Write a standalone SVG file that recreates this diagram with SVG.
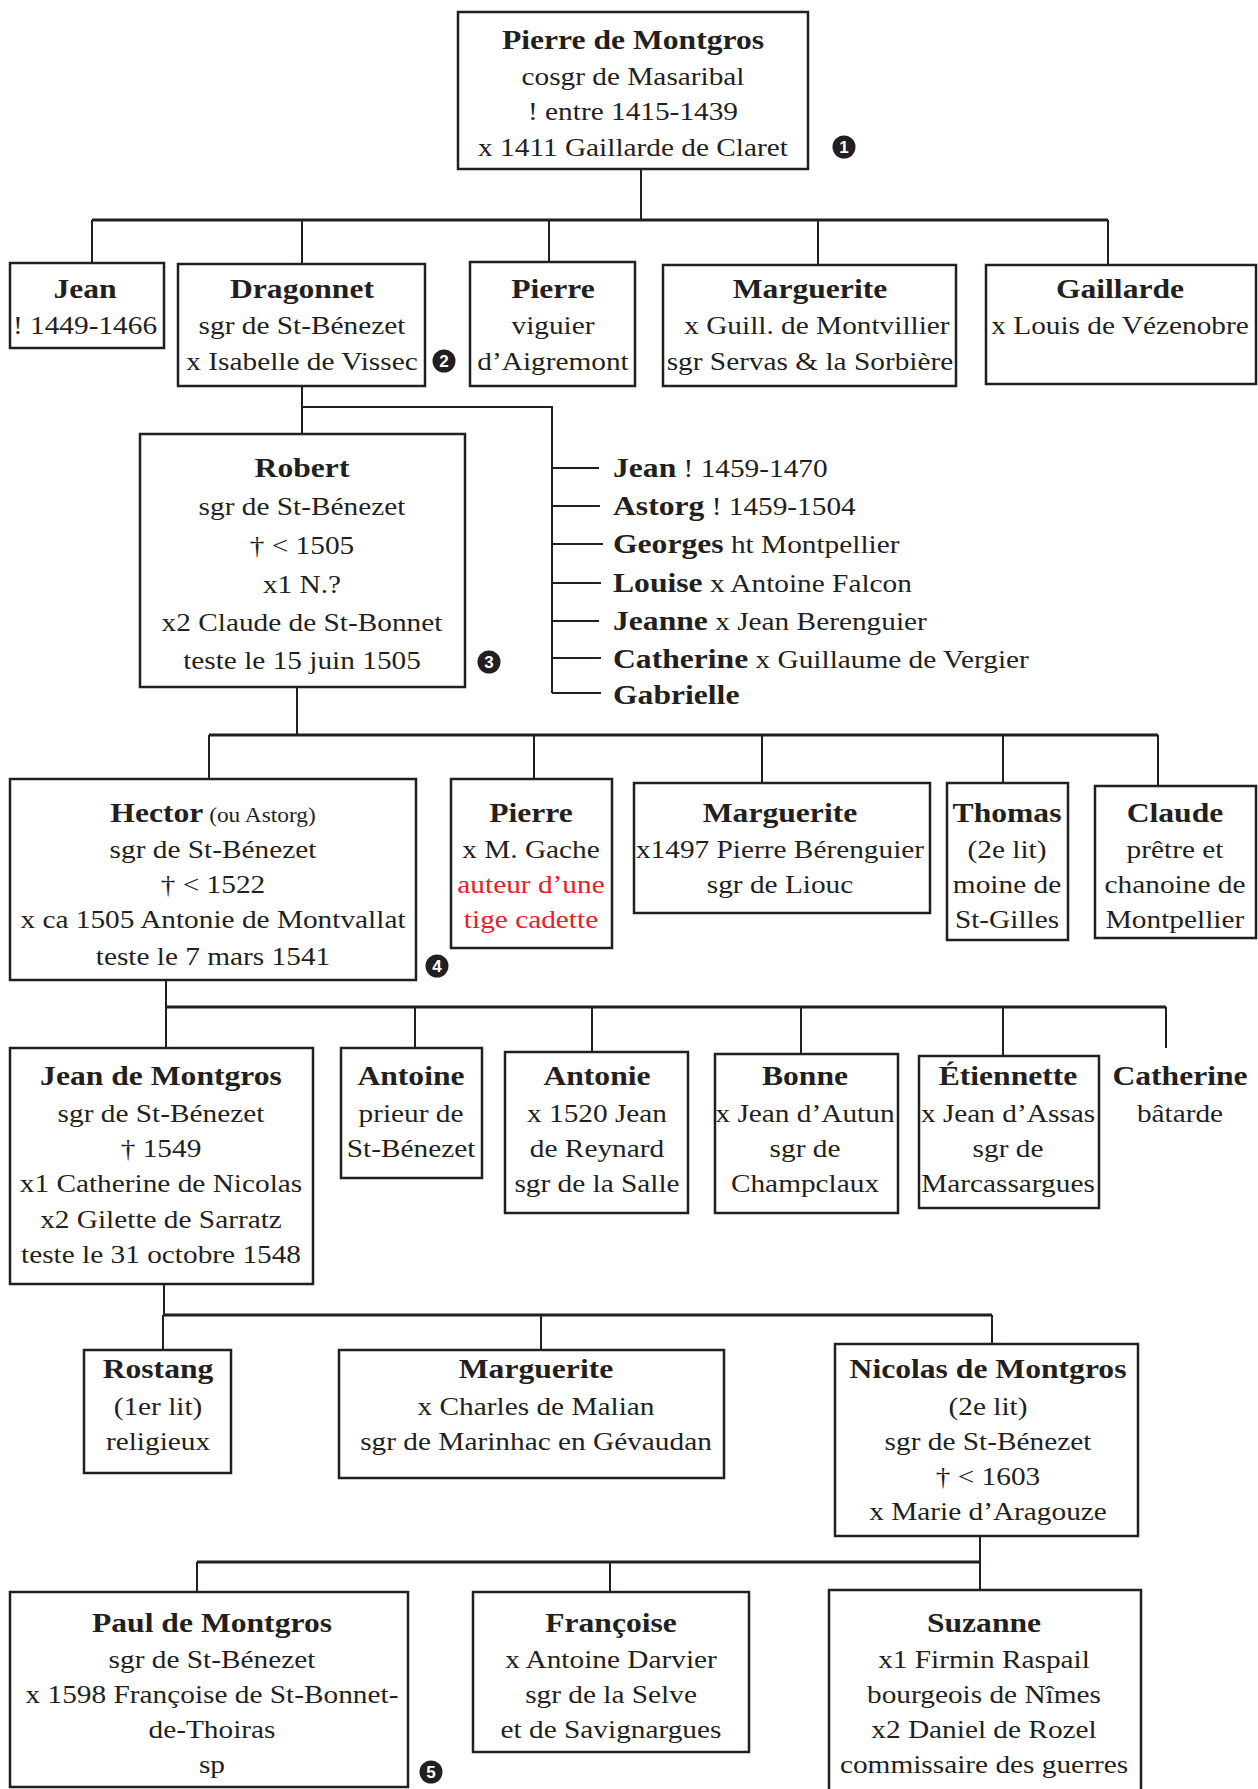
<svg xmlns="http://www.w3.org/2000/svg" width="1258" height="1789" viewBox="0 0 1258 1789">
<style>
.box{fill:#fff;stroke:#231f20;stroke-width:2.5}
.c{fill:none;stroke:#231f20;stroke-width:2}
.bar{fill:none;stroke:#231f20;stroke-width:3}
text{font-family:"Liberation Serif","Times New Roman",serif;fill:#231f20;font-size:25.5px}
.t text{text-anchor:middle}
.l text{text-anchor:start}
.b{font-weight:bold;font-size:27.5px}
.s{font-size:20.3px;font-weight:normal}
.red{fill:#e4202a}
.badge circle{fill:#231f20}
.badge text{fill:#fff;font-family:"Liberation Sans",Arial,sans-serif;font-weight:bold;font-size:17px;text-anchor:middle}
</style>

<g id="connectors">
  <path class="c" d="M641 169V220"/>
  <path class="bar" d="M92 220H1108"/>
  <path class="c" d="M92 220V263M302 220V264M549 220V262M818 220V265M1108 220V265"/>
  <path class="c" d="M302 386V434"/>
  <path class="c" d="M302 407H552V693"/>
  <path class="c" d="M552 468H599M552 506H600M552 544H603M552 583H601M552 621H599M552 658H601M552 693H601"/>
  <path class="c" d="M297 687V735"/>
  <path class="bar" d="M209 735H1158"/>
  <path class="c" d="M209 735V779M534 735V779M762 735V783M1003 735V783M1158 735V786"/>
  <path class="c" d="M166 980V1007"/>
  <path class="bar" d="M166 1007H1166"/>
  <path class="c" d="M166 1007V1048M415 1007V1048M592 1007V1052M801 1007V1054M1003 1007V1056M1166 1007V1048"/>
  <path class="c" d="M164 1284V1315"/>
  <path class="bar" d="M163 1315H992"/>
  <path class="c" d="M163 1315V1350M541 1315V1350M992 1315V1344"/>
  <path class="c" d="M980 1536V1562"/>
  <path class="bar" d="M197 1562H980"/>
  <path class="c" d="M197 1562V1592M610 1562V1592M980 1562V1590"/>
</g>

<g id="n-pierre-montgros">
  <rect class="box" x="458" y="12" width="350" height="157"/>
  <g class="t" transform="translate(633 0) scale(1.15 1)">
    <text class="b" y="49">Pierre de Montgros</text>
    <text y="85">cosgr de Masaribal</text>
    <text y="120">! entre 1415-1439</text>
    <text y="156">x 1411 Gaillarde de Claret</text>
  </g>
</g>

<g id="n-jean-1">
  <rect class="box" x="10" y="263" width="154" height="85"/>
  <g class="t" transform="translate(85 0) scale(1.15 1)">
    <text class="b" y="298">Jean</text>
    <text y="334">! 1449-1466</text>
  </g>
</g>

<g id="n-dragonnet">
  <rect class="box" x="178" y="264" width="247" height="122"/>
  <g class="t" transform="translate(302 0) scale(1.15 1)">
    <text class="b" y="298">Dragonnet</text>
    <text y="334">sgr de St-Bénezet</text>
    <text y="370">x Isabelle de Vissec</text>
  </g>
</g>

<g id="n-pierre-viguier">
  <rect class="box" x="470" y="262" width="165" height="124"/>
  <g class="t" transform="translate(553 0) scale(1.15 1)">
    <text class="b" y="298">Pierre</text>
    <text y="334">viguier</text>
    <text y="370">d’Aigremont</text>
  </g>
</g>

<g id="n-marguerite-1">
  <rect class="box" x="663" y="265" width="293" height="121"/>
  <g class="t" transform="translate(810 0) scale(1.15 1)">
    <text class="b" y="298">Marguerite</text>
    <text x="6" y="334">x Guill. de Montvillier</text>
    <text y="370">sgr Servas &amp; la Sorbière</text>
  </g>
</g>

<g id="n-gaillarde">
  <rect class="box" x="986" y="265" width="270" height="119"/>
  <g class="t" transform="translate(1120 0) scale(1.15 1)">
    <text class="b" y="298">Gaillarde</text>
    <text y="334">x Louis de Vézenobre</text>
  </g>
</g>

<g id="n-robert">
  <rect class="box" x="140" y="434" width="325" height="253"/>
  <g class="t" transform="translate(302 0) scale(1.15 1)">
    <text class="b" y="477">Robert</text>
    <text y="515">sgr de St-Bénezet</text>
    <text y="554">† &lt; 1505</text>
    <text y="593">x1 N.?</text>
    <text y="631">x2 Claude de St-Bonnet</text>
    <text y="669">teste le 15 juin 1505</text>
  </g>
</g>

<g id="n-list-dragonnet-children">
  <g class="l" transform="translate(613 0) scale(1.15 1)">
    <text y="477"><tspan class="b">Jean</tspan> ! 1459-1470</text>
    <text y="515"><tspan class="b">Astorg</tspan> ! 1459-1504</text>
    <text y="553"><tspan class="b">Georges</tspan> ht Montpellier</text>
    <text y="592"><tspan class="b">Louise</tspan> x Antoine Falcon</text>
    <text y="630"><tspan class="b">Jeanne</tspan> x Jean Berenguier</text>
    <text y="668"><tspan class="b">Catherine</tspan> x Guillaume de Vergier</text>
    <text y="704"><tspan class="b">Gabrielle</tspan></text>
  </g>
</g>

<g id="n-hector">
  <rect class="box" x="10" y="779" width="406" height="201"/>
  <g class="t" transform="translate(213 0) scale(1.15 1)">
    <text y="822"><tspan class="b">Hector</tspan><tspan class="s"> (ou Astorg)</tspan></text>
    <text y="858">sgr de St-Bénezet</text>
    <text y="893">† &lt; 1522</text>
    <text y="928">x ca 1505 Antonie de Montvallat</text>
    <text y="965">teste le 7 mars 1541</text>
  </g>
</g>

<g id="n-pierre-gache">
  <rect class="box" x="451" y="779" width="161" height="169"/>
  <g class="t" transform="translate(531 0) scale(1.15 1)">
    <text class="b" y="822">Pierre</text>
    <text y="858">x M. Gache</text>
    <text class="red" y="893">auteur d’une</text>
    <text class="red" y="928">tige cadette</text>
  </g>
</g>

<g id="n-marguerite-2">
  <rect class="box" x="634" y="783" width="296" height="130"/>
  <g class="t" transform="translate(780 0) scale(1.15 1)">
    <text class="b" y="822">Marguerite</text>
    <text y="858">x1497 Pierre Bérenguier</text>
    <text y="893">sgr de Liouc</text>
  </g>
</g>

<g id="n-thomas">
  <rect class="box" x="947" y="783" width="121" height="157"/>
  <g class="t" transform="translate(1007 0) scale(1.15 1)">
    <text class="b" y="822">Thomas</text>
    <text y="858">(2e lit)</text>
    <text y="893">moine de</text>
    <text y="928">St-Gilles</text>
  </g>
</g>

<g id="n-claude">
  <rect class="box" x="1095" y="786" width="161" height="152"/>
  <g class="t" transform="translate(1175 0) scale(1.15 1)">
    <text class="b" y="822">Claude</text>
    <text y="858">prêtre et</text>
    <text y="893">chanoine de</text>
    <text y="928">Montpellier</text>
  </g>
</g>

<g id="n-jean-montgros">
  <rect class="box" x="10" y="1048" width="303" height="236"/>
  <g class="t" transform="translate(161 0) scale(1.15 1)">
    <text class="b" y="1085">Jean de Montgros</text>
    <text y="1122">sgr de St-Bénezet</text>
    <text y="1157">† 1549</text>
    <text y="1192">x1 Catherine de Nicolas</text>
    <text y="1228">x2 Gilette de Sarratz</text>
    <text y="1263">teste le 31 octobre 1548</text>
  </g>
</g>

<g id="n-antoine">
  <rect class="box" x="341" y="1048" width="141" height="130"/>
  <g class="t" transform="translate(411 0) scale(1.15 1)">
    <text class="b" y="1085">Antoine</text>
    <text y="1122">prieur de</text>
    <text y="1157">St-Bénezet</text>
  </g>
</g>

<g id="n-antonie">
  <rect class="box" x="505" y="1052" width="183" height="161"/>
  <g class="t" transform="translate(597 0) scale(1.15 1)">
    <text class="b" y="1085">Antonie</text>
    <text y="1122">x 1520 Jean</text>
    <text y="1157">de Reynard</text>
    <text y="1192">sgr de la Salle</text>
  </g>
</g>

<g id="n-bonne">
  <rect class="box" x="715" y="1054" width="183" height="159"/>
  <g class="t" transform="translate(805 0) scale(1.15 1)">
    <text class="b" y="1085">Bonne</text>
    <text y="1122">x Jean d’Autun</text>
    <text y="1157">sgr de</text>
    <text y="1192">Champclaux</text>
  </g>
</g>

<g id="n-etiennette">
  <rect class="box" x="919" y="1056" width="180" height="152"/>
  <g class="t" transform="translate(1008 0) scale(1.15 1)">
    <text class="b" y="1085">Étiennette</text>
    <text y="1122">x Jean d’Assas</text>
    <text y="1157">sgr de</text>
    <text y="1192">Marcassargues</text>
  </g>
</g>

<g id="n-catherine">
  <g class="t" transform="translate(1180 0) scale(1.15 1)">
    <text class="b" y="1085">Catherine</text>
    <text y="1122">bâtarde</text>
  </g>
</g>

<g id="n-rostang">
  <rect class="box" x="84" y="1350" width="147" height="123"/>
  <g class="t" transform="translate(158 0) scale(1.15 1)">
    <text class="b" y="1378">Rostang</text>
    <text y="1415">(1er lit)</text>
    <text y="1450">religieux</text>
  </g>
</g>

<g id="n-marguerite-3">
  <rect class="box" x="339" y="1350" width="385" height="128"/>
  <g class="t" transform="translate(536 0) scale(1.15 1)">
    <text class="b" y="1378">Marguerite</text>
    <text y="1415">x Charles de Malian</text>
    <text y="1450">sgr de Marinhac en Gévaudan</text>
  </g>
</g>

<g id="n-nicolas">
  <rect class="box" x="835" y="1344" width="303" height="192"/>
  <g class="t" transform="translate(988 0) scale(1.15 1)">
    <text class="b" y="1378">Nicolas de Montgros</text>
    <text y="1415">(2e lit)</text>
    <text y="1450">sgr de St-Bénezet</text>
    <text y="1485">† &lt; 1603</text>
    <text y="1520">x Marie d’Aragouze</text>
  </g>
</g>

<g id="n-paul">
  <rect class="box" x="10" y="1592" width="398" height="195"/>
  <g class="t" transform="translate(212 0) scale(1.15 1)">
    <text class="b" y="1632">Paul de Montgros</text>
    <text y="1668">sgr de St-Bénezet</text>
    <text y="1703">x 1598 Françoise de St-Bonnet-</text>
    <text y="1738">de-Thoiras</text>
    <text y="1773">sp</text>
  </g>
</g>

<g id="n-francoise">
  <rect class="box" x="473" y="1592" width="276" height="160"/>
  <g class="t" transform="translate(611 0) scale(1.15 1)">
    <text class="b" y="1632">Françoise</text>
    <text y="1668">x Antoine Darvier</text>
    <text y="1703">sgr de la Selve</text>
    <text y="1738">et de Savignargues</text>
  </g>
</g>

<g id="n-suzanne">
  <rect class="box" x="829" y="1590" width="312" height="220"/>
  <g class="t" transform="translate(984 0) scale(1.15 1)">
    <text class="b" y="1632">Suzanne</text>
    <text y="1668">x1 Firmin Raspail</text>
    <text y="1703">bourgeois de Nîmes</text>
    <text y="1738">x2 Daniel de Rozel</text>
    <text y="1773">commissaire des guerres</text>
  </g>
</g>

<g id="badges" class="badge">
  <circle cx="844" cy="147" r="11.5"/><text x="844" y="153">1</text>
  <circle cx="444" cy="361" r="11.5"/><text x="444" y="367">2</text>
  <circle cx="489" cy="662" r="11.5"/><text x="489" y="668">3</text>
  <circle cx="437" cy="966" r="11.5"/><text x="437" y="972">4</text>
  <circle cx="431" cy="1772" r="11.5"/><text x="431" y="1778">5</text>
</g>
</svg>
